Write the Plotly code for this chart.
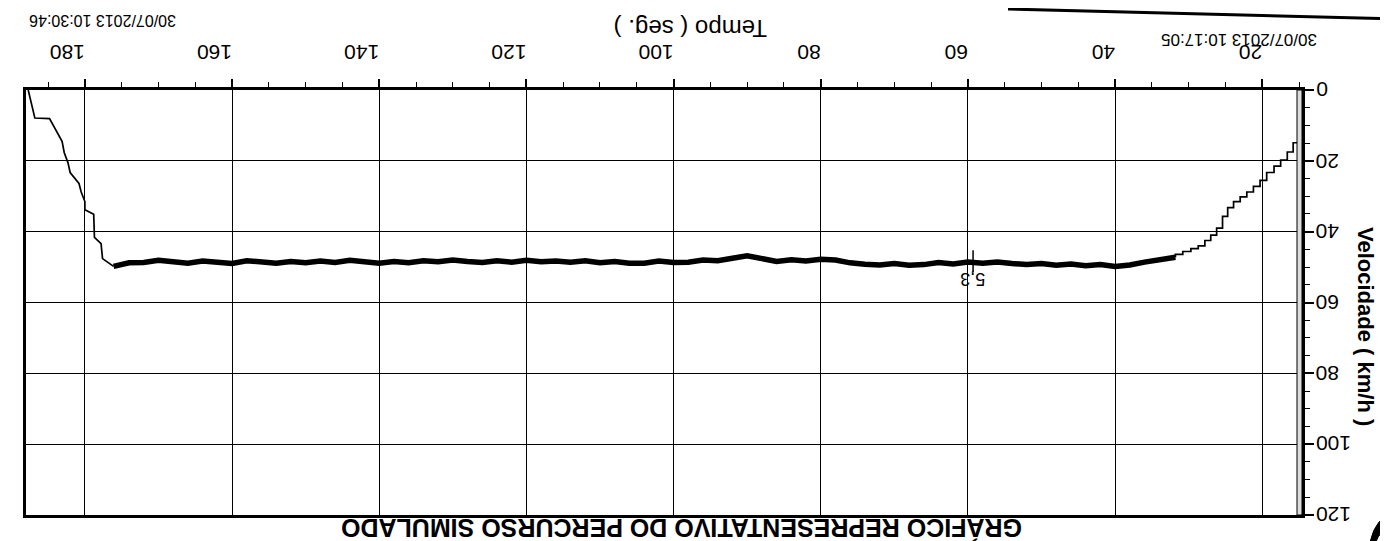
import plotly.graph_objects as go

# ---- data (time in s, speed in km/h) ----
accel_t = [14.7, 15.8, 16.6, 17.5, 18.4, 19.4, 20.3, 21.2, 22.1, 23.0, 23.9, 24.7, 25.4, 26.2,
           27.0, 27.8, 28.7, 29.7, 30.8, 31.8]
accel_v = [14.9, 17.5, 19.8, 21.5, 23.3, 25.5, 27.2, 28.8, 30.2, 31.5, 33.2, 35.7, 39.0, 41.0,
           42.5, 44.0, 44.8, 45.6, 46.4, 47.2]

cruise_t = [31.8, 34, 36, 38, 40, 42, 44, 46, 48, 50, 52, 54, 56, 58, 60, 62, 64, 66, 68, 70,
            72, 74, 76, 78, 80, 82, 84, 86, 88, 90, 92, 94, 96, 98, 100, 102, 104, 106, 108, 110,
            112, 114, 116, 118, 120, 122, 124, 126, 128, 130, 132, 134, 136, 138, 140, 142, 144,
            146, 148, 150, 152, 154, 156, 158, 160, 162, 164, 166, 168, 170, 172, 174, 176.1]
cruise_v = [47.2, 47.8, 48.6, 49.4, 49.8, 49.3, 49.6, 49.1, 49.5, 49.0, 49.3, 49.0, 48.6, 48.9,
            48.6, 49.1, 48.7, 49.3, 49.5, 49.0, 49.4, 49.2, 48.8, 48.0, 47.8, 48.3, 47.9, 48.4,
            47.6, 46.8, 47.5, 48.2, 48.0, 48.6, 48.7, 48.3, 48.9, 48.9, 48.4, 48.8, 48.2, 48.6,
            48.3, 48.5, 48.1, 48.6, 48.2, 48.7, 48.4, 48.0, 48.5, 48.2, 48.8, 48.4, 48.9, 48.5,
            48.1, 48.7, 48.3, 48.8, 48.4, 48.9, 48.5, 48.2, 49.0, 48.6, 48.3, 48.9, 48.5, 48.1,
            48.7, 48.8, 49.8]

decel_t = [176.1, 177.6, 177.8, 178.7, 178.8, 180.0, 180.0, 180.5, 180.8, 182.0, 182.3, 182.8,
           183.1, 184.3, 184.8, 186.8, 187.7]
decel_v = [49.8, 47.6, 43.4, 41.6, 35.1, 33.8, 31.5, 28.8, 26.4, 23.3, 20.5, 17.7, 14.5, 10.0,
           8.1, 7.9, 0.0]

mark_t = [59.3]
mark_v = [48.4]
mark_label = "5,3"

x_ticks = [20, 40, 60, 80, 100, 120, 140, 160, 180]
y_ticks = [0, 20, 40, 60, 80, 100, 120]

title_text = "GRÁFICO REPRESENTATIVO DO PERCURSO SIMULADO"
x_title = "Tempo ( seg. )"
y_title = "Velocidade ( km/h )"
stamp1 = "30/07/2013 10:17:05"
stamp2 = "30/07/2013 10:30:46"

# ---- layout geometry ----
W, H = 1388, 541
L, R, T, B = 18, 94, 82, 34
PW, PH = W - L - R, H - T - B


def px(x):
    return (x - L) / PW


def py(y):
    return (H - B - y) / PH


FONT = "Liberation Sans, Arial, Helvetica, sans-serif"

fig = go.Figure()
fig.add_trace(go.Scatter(x=accel_t, y=accel_v, mode="lines", line=dict(color="black", width=1.7, shape="hv"),
                         hoverinfo="skip", showlegend=False))
fig.add_trace(go.Scatter(x=cruise_t, y=cruise_v, mode="lines", line=dict(color="black", width=5.5),
                         hoverinfo="skip", showlegend=False))
fig.add_trace(go.Scatter(x=decel_t, y=decel_v, mode="lines", line=dict(color="black", width=1.7),
                         hoverinfo="skip", showlegend=False))
fig.add_trace(go.Scatter(x=mark_t, y=mark_v, mode="markers",
                         marker=dict(symbol="line-ns-open", size=16, color="black",
                                     line=dict(color="black", width=1.5)),
                         hoverinfo="skip", showlegend=False))

fig.add_annotation(x=mark_t[0], y=mark_v[0] + 5, xref="x", yref="y", text=mark_label, showarrow=False,
                   textangle=180, font=dict(family=FONT, size=18, color="black"))

# y tick labels, upside down, placed on the y scale
for v in y_ticks:
    fig.add_annotation(x=1.0, xref="paper", y=v, yref="y", text=str(v), showarrow=False,
                       textangle=180, xanchor="left", yanchor="middle", xshift=12,
                       font=dict(family=FONT, size=21, color="black"))

fig.update_xaxes(range=[188.0, 14.6], side="top", tickvals=x_ticks, tickangle=180,
                 ticks="outside", ticklen=8, tickwidth=1.5, tickcolor="black",
                 ticklabelstandoff=5,
                 tickfont=dict(family=FONT, size=21, color="black"),
                 showgrid=True, gridcolor="black", gridwidth=1.4,
                 showline=True, linecolor="black", linewidth=3, mirror=True, zeroline=False,
                 minor=dict(dtick=5, tick0=0, ticks="outside", ticklen=5, tickcolor="black", tickwidth=1.3,
                            showgrid=False))
fig.update_yaxes(range=[120, 0], side="right", tickvals=y_ticks, showticklabels=False,
                 ticks="outside", ticklen=9, tickwidth=1.5, tickcolor="black",
                 showgrid=True, gridcolor="black", gridwidth=1.4,
                 showline=True, linecolor="black", linewidth=3, mirror=True, zeroline=False,
                 minor=dict(dtick=5, tick0=0, ticks="outside", ticklen=5, tickcolor="black", tickwidth=1.3,
                            showgrid=False))

anns = [
    dict(x=px(683), y=py(20), text=x_title, size=24, angle=180),
    dict(x=px(1231), y=py(31), text=stamp1, size=17, angle=180),
    dict(x=px(95), y=py(13), text=stamp2, size=16, angle=180),
    dict(x=px(1358), y=py(318), text="<b>" + y_title + "</b>", size=22, angle=90),
    dict(x=px(674), y=py(520), text="<b>" + title_text + "</b>", size=25, angle=180),
]
for a in anns:
    fig.add_annotation(x=a["x"], y=a["y"], xref="paper", yref="paper", text=a["text"], showarrow=False,
                       textangle=a["angle"], xanchor="center", yanchor="middle",
                       font=dict(family=FONT, size=a["size"], color="black"))

shapes = [
    # inner band of the right frame
    dict(type="rect", xref="paper", yref="paper", x0=px(W - R - 5), x1=1.0, y0=0, y1=1,
         fillcolor="#dcdcdc", line=dict(color="black", width=1), layer="above"),
    # paper edge on the right
    dict(type="line", xref="paper", yref="paper", x0=px(1383), y0=py(130), x1=px(1381), y1=py(532),
         line=dict(color="#333", width=1.5)),
    # paper edge top right
    dict(type="line", xref="paper", yref="paper", x0=px(1000), y0=py(1), x1=px(1388), y1=py(11),
         line=dict(color="black", width=3)),
    # scan blob bottom right
    dict(type="path", xref="paper", yref="paper",
         path=f"M {px(1362)},{py(534)} Q {px(1368)},{py(508)} {px(1386)},{py(506)} L {px(1388)},{py(520)} "
              f"Q {px(1374)},{py(516)} {px(1366)},{py(538)} Z",
         fillcolor="black", line=dict(color="black", width=1)),
]
fig.update_layout(shapes=shapes)

fig.update_layout(width=W, height=H, margin=dict(l=L, r=R, t=T, b=B, pad=0),
                  paper_bgcolor="white", plot_bgcolor="white",
                  font=dict(family=FONT, color="black"), showlegend=False)

fig.write_html("out.html")
